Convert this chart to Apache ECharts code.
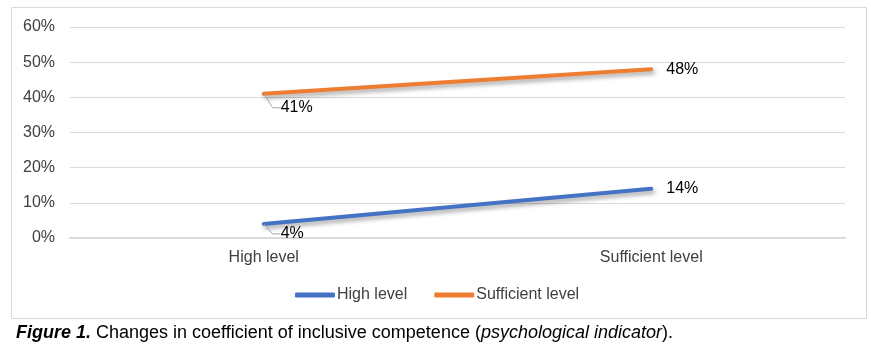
<!DOCTYPE html>
<html>
<head>
<meta charset="utf-8">
<script src="https://cdn.jsdelivr.net/npm/echarts@6/dist/echarts.min.js"></script>
<style>
  html, body { margin: 0; padding: 0; background: #ffffff; }
  #chart { width: 871px; height: 346px; }
</style>
</head>
<body>
<div id="chart"></div>
<script>
// Categories on the x axis
const categories = ['High level', 'Sufficient level'];
// Share of participants (percent) per level
const highLevel = [4, 14];
const sufficientLevel = [41, 48];
// Y axis ticks
const yTicks = [0, 10, 20, 30, 40, 50, 60];

const FONT = '"Liberation Sans", Arial, sans-serif';
const TEXT = '#404040';

const chart = echarts.init(document.getElementById('chart'), null, { renderer: 'canvas' });

const lineShadow = {
  shadowColor: 'rgba(0,0,0,0.35)',
  shadowBlur: 4,
  shadowOffsetX: 2,
  shadowOffsetY: 3
};

// First point of each series: label below-right with an elbow leader line.
// Other points: label to the right, no leader.
function buildData(values) {
  return values.map((v, i) => i === 0
    ? { value: v, label: { padding: [0, 0, 0, 8] }, labelLine: { show: true } }
    : { value: v, labelLine: { show: false } });
}

function makeSeries(name, values, color, firstDy) {
  return {
    name: name,
    type: 'line',
    data: buildData(values),
    symbol: 'circle',
    symbolSize: 0.1,
    showSymbol: true,
    lineStyle: Object.assign({ color: color, width: 4, cap: 'round' }, lineShadow),
    itemStyle: { color: color },
    label: {
      show: true,
      position: 'right',
      distance: 15,
      formatter: p => p.value + '%',
      color: '#000',
      fontFamily: FONT,
      fontSize: 16
    },
    labelLine: {
      show: false,
      length2: 8,
      smooth: false,
      lineStyle: { color: '#a6a6a6', width: 1, shadowBlur: 0, shadowOffsetX: 0, shadowOffsetY: 0, shadowColor: 'transparent' }
    },
    labelLayout: function (params) {
      if (params.dataIndex === 0) {
        return {
          x: params.rect.x + 9,
          y: params.rect.y + firstDy,
          align: 'left',
          verticalAlign: 'middle',
          hideOverlap: false
        };
      }
      return {};
    }
  };
}

const option = {
  animation: false,
  textStyle: { fontFamily: FONT },
  title: {
    left: 11,
    top: 319,
    text: '{b|Figure 1.} Changes in coefficient of inclusive competence ({i|psychological indicator}).',
    textStyle: {
      fontFamily: FONT,
      fontSize: 18,
      fontWeight: 'normal',
      color: '#000',
      rich: {
        b: { fontFamily: FONT, fontSize: 18, fontWeight: 'bold', fontStyle: 'italic', color: '#000' },
        i: { fontFamily: FONT, fontSize: 18, fontStyle: 'italic', color: '#000' }
      }
    }
  },
  graphic: [{
    type: 'rect',
    shape: { x: 11.5, y: 7.5, width: 855, height: 311 },
    style: { fill: 'none', stroke: '#d9d9d9', lineWidth: 1 },
    silent: true,
    z: -1
  }],
  legend: {
    top: 282,
    left: 290,
    itemWidth: 40,
    itemHeight: 5,
    itemGap: 27,
    icon: 'roundRect',
    textStyle: { fontFamily: FONT, fontSize: 16, color: TEXT, padding: [0, 0, 0, -3] },
    data: ['High level', 'Sufficient level']
  },
  grid: { left: 70, right: 26, top: 27, bottom: 108, containLabel: false },
  xAxis: {
    type: 'category',
    data: categories,
    boundaryGap: true,
    axisLine: { lineStyle: { color: '#d9d9d9', width: 2 } },
    axisTick: { show: false },
    axisLabel: { color: TEXT, fontFamily: FONT, fontSize: 16, margin: 12 }
  },
  yAxis: {
    type: 'value',
    min: yTicks[0],
    max: yTicks[yTicks.length - 1],
    interval: 10,
    axisLine: { show: false },
    axisTick: { show: false },
    splitLine: { lineStyle: { color: '#d9d9d9', width: 1 } },
    axisLabel: { color: TEXT, fontFamily: FONT, fontSize: 16, margin: 15, formatter: v => v + '%' }
  },
  series: [
    makeSeries('High level', highLevel, '#4472C4', 10),
    makeSeries('Sufficient level', sufficientLevel, '#ED7D31', 14)
  ]
};

chart.setOption(option);
</script>
</body>
</html>
